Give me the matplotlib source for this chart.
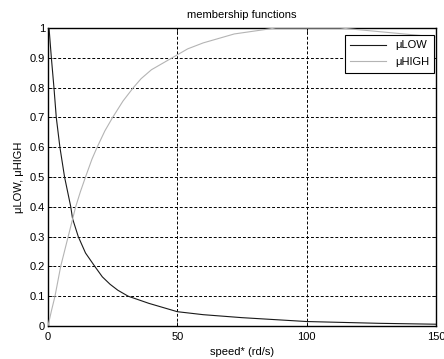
import matplotlib
matplotlib.use('Agg')
import matplotlib.pyplot as plt

plt.rcParams['font.family'] = ['Liberation Sans', 'DejaVu Sans']

# values
speed_low = [0, 0.4, 1.3, 2.3, 3.2, 4.6, 6.4, 8.8, 9.5, 11.7, 14.5, 18.1, 21, 24, 27, 31, 35, 39,
             50, 60, 75, 100, 128, 150]
mu_low = [1, 1, 0.9, 0.8, 0.7, 0.6, 0.5, 0.4, 0.36, 0.3, 0.245, 0.2, 0.165, 0.14, 0.12, 0.1, 0.088, 0.076,
          0.048, 0.038, 0.028, 0.015, 0.009, 0.006]

speed_high = [0, 1.3, 2.7, 4.9, 7.8, 10.7, 12.5, 14.5, 17, 19, 22, 25, 29, 33, 36, 40, 44, 48,
              54, 60, 66, 72, 80, 88, 113, 150]
mu_high = [0, 0.05, 0.1, 0.2, 0.3, 0.4, 0.45, 0.5, 0.56, 0.6, 0.655, 0.7, 0.755, 0.8, 0.83, 0.86, 0.88, 0.9,
           0.93, 0.95, 0.965, 0.98, 0.99, 1.0, 1.0, 0.97]

x_ticks = [0, 50, 100, 150]
y_ticks = [0, 0.1, 0.2, 0.3, 0.4, 0.5, 0.6, 0.7, 0.8, 0.9, 1]
y_ticklabels = ['0', '0.1', '0.2', '0.3', '0.4', '0.5', '0.6', '0.7', '0.8', '0.9', '1']

fig = plt.figure(figsize=(4.44, 3.59), dpi=100)
ax = fig.add_axes((48 / 444, 33 / 359, 388 / 444, 298 / 359))

ax.plot(speed_low, mu_low, color='#1a1a1a', lw=0.8, label='\u03bcLOW', zorder=3)
ax.plot(speed_high, mu_high, color='#b4b4b4', lw=0.8, label='\u03bcHIGH', zorder=3)

ax.set_xlim(0, 150)
ax.set_ylim(0, 1)
ax.set_xticks(x_ticks)
ax.set_xticklabels([str(t) for t in x_ticks])
ax.set_yticks(y_ticks)
ax.set_yticklabels(y_ticklabels)
ax.tick_params(direction='in', length=3, width=0.6, labelsize=8, pad=2,
               top=True, right=True)
ax.tick_params(axis='x', pad=4)
ax.grid(True, color='black', linestyle=(0, (3, 2)), linewidth=0.7)
for s in ax.spines.values():
    s.set_linewidth(1.0)
    s.set_color('black')

ax.set_title('membership functions', fontsize=8, pad=7)
ax.set_xlabel('speed* (rd/s)', fontsize=8, labelpad=4)
ax.set_ylabel('\u03bcLOW, \u03bcHIGH', fontsize=8, labelpad=4)

leg = ax.legend(loc='upper right', bbox_to_anchor=(0.996, 0.977), fontsize=8,
                fancybox=False, framealpha=1, edgecolor='black', borderaxespad=0,
                handlelength=3.2, borderpad=0.5, labelspacing=0.6)
leg.get_frame().set_linewidth(0.8)
leg.set_zorder(5)

fig.savefig('out.png', dpi=100)
